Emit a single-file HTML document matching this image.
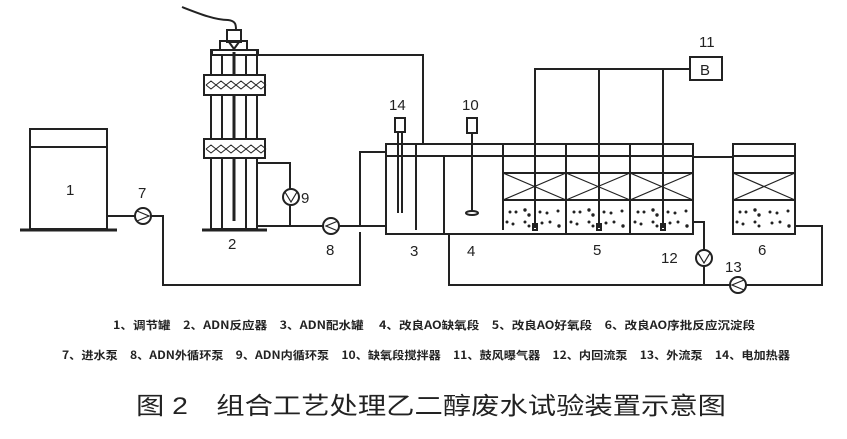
<!DOCTYPE html>
<html><head><meta charset="utf-8"><style>
html,body{margin:0;padding:0;background:#fff;}
svg{display:block;}
text{font-family:"Liberation Sans","Noto Sans CJK SC",sans-serif;fill:#222;}
.cn{font-family:"Noto Sans CJK SC","WenQuanYi Zen Hei",sans-serif;font-weight:bold;font-size:11px;}
</style></head><body>
<svg width="847" height="439" viewBox="0 0 847 439" xmlns="http://www.w3.org/2000/svg">
<g fill="none" stroke="#222" stroke-width="2">
<rect x="30" y="129" width="77" height="100"/>
<line x1="30" y1="147" x2="107" y2="147"/>
<line x1="20" y1="230" x2="117" y2="230" stroke-width="3"/>
<circle cx="143" cy="216" r="8"/>
<polyline points="107,216 135,216"/>
<polyline points="151,216 163,216 163,285 360,285 360,232"/>
<polyline points="360,226 360,152 386,152"/>
<rect x="211" y="50" width="46" height="179"/>
<line x1="222" y1="55" x2="222" y2="229"/>
<line x1="246" y1="55" x2="246" y2="229"/>
<line x1="234" y1="52" x2="234" y2="221" stroke-width="3"/>
<line x1="202" y1="230" x2="267" y2="230" stroke-width="3"/>
<rect x="204" y="75" width="61" height="20" fill="#fff"/>
<rect x="204" y="139" width="61" height="19" fill="#fff"/>
<path d="M206,85 l5,-4 5,4 5,-4 5,4 5,-4 5,4 5,-4 5,4 5,-4 5,4 5,-4 5,4 M206,85 l5,4 5,-4 5,4 5,-4 5,4 5,-4 5,4 5,-4 5,4 5,-4 5,4 5,-4" stroke-width="1"/>
<path d="M206,149 l5,-4 5,4 5,-4 5,4 5,-4 5,4 5,-4 5,4 5,-4 5,4 5,-4 5,4 M206,149 l5,4 5,-4 5,4 5,-4 5,4 5,-4 5,4 5,-4 5,4 5,-4 5,4 5,-4" stroke-width="1"/>
<rect x="212" y="50" width="46" height="5"/>
<rect x="220" y="41" width="27" height="9"/>
<rect x="227" y="30" width="14" height="12"/>
<path d="M229,42 l5,7 5,-7"/>
<path d="M182,7 C200,14 215,20 228,20 C236,21 236,25 236,30"/>
<polyline points="257,55 423,55 423,144"/>
<polyline points="257,163 290,163 290,189"/>
<circle cx="291" cy="197" r="8"/>
<path d="M285,192 l6,10 6,-10" stroke-width="1.2"/>
<polyline points="290,205 290,226"/>
<line x1="257" y1="226" x2="323" y2="226"/>
<circle cx="331" cy="226" r="8"/>
<path d="M338,221 l-12,5 12,5" stroke-width="1.2"/>
<path d="M137,211 l12,5 -12,5" stroke-width="1.2"/>
<line x1="339" y1="226" x2="386" y2="226"/>
<rect x="386" y="144" width="307" height="90"/>
<line x1="386" y1="156" x2="693" y2="156"/>
<line x1="416" y1="144" x2="416" y2="230"/>
<line x1="444" y1="156" x2="444" y2="234"/>
<line x1="503" y1="144" x2="503" y2="230"/>
<line x1="566" y1="144" x2="566" y2="234"/>
<line x1="630" y1="144" x2="630" y2="234"/>
<rect x="503" y="173" width="190" height="27"/>
<path d="M503,173 L566,200 M566,173 L503,200 M566,173 L630,200 M630,173 L566,200 M630,173 L693,200 M693,173 L630,200" stroke-width="1.2"/>
<polyline points="535,228 535,69 690,69"/>
<line x1="599" y1="69" x2="599" y2="228"/>
<line x1="663" y1="69" x2="663" y2="228"/>
<rect x="533" y="224" width="4" height="6"/>
<rect x="597" y="224" width="4" height="6"/>
<rect x="661" y="224" width="4" height="6"/>
<rect x="690" y="57" width="32" height="23"/>
<rect x="395" y="118" width="10" height="14"/>
<line x1="398" y1="132" x2="398" y2="213"/>
<line x1="402" y1="132" x2="402" y2="213"/>
<rect x="467" y="118" width="10" height="15"/>
<line x1="472" y1="133" x2="472" y2="212"/>
<ellipse cx="472" cy="213" rx="6" ry="2"/>
<rect x="733" y="144" width="62" height="90"/>
<line x1="733" y1="156" x2="795" y2="156"/>
<rect x="733" y="173" width="62" height="27"/>
<path d="M733,173 L795,200 M795,173 L733,200" stroke-width="1.2"/>
<line x1="693" y1="157" x2="733" y2="157"/>
<polyline points="693,222 704,222 704,250"/>
<circle cx="704" cy="258" r="8"/>
<path d="M698,253 l6,10 6,-10" stroke-width="1.2"/>
<line x1="704" y1="266" x2="704" y2="285"/>
<polyline points="449,234 449,285 730,285"/>
<circle cx="738" cy="285" r="8"/>
<path d="M744,280 l-12,5 12,5" stroke-width="1.2"/>
<polyline points="746,285 822,285 822,226 795,226"/>
</g>
<g fill="#222">
<g id="dots">
<circle cx="510" cy="212" r="1.5"/><circle cx="516" cy="212" r="1.5"/><circle cx="525" cy="210" r="1.7"/><circle cx="529" cy="215" r="1.7"/><circle cx="540" cy="212" r="1.5"/><circle cx="547" cy="213" r="1.5"/><circle cx="558" cy="211" r="1.5"/>
<circle cx="507" cy="222" r="1.5"/><circle cx="513" cy="224" r="1.5"/><circle cx="525" cy="222" r="1.5"/><circle cx="529" cy="226" r="1.5"/><circle cx="542" cy="223" r="1.5"/><circle cx="550" cy="222" r="1.5"/><circle cx="559" cy="226" r="1.7"/>
</g>
<use href="#dots" x="64"/><use href="#dots" x="128"/><use href="#dots" x="230"/>
</g>
<g font-size="15">
<text x="66" y="195">1</text><text x="138" y="198">7</text><text x="228" y="249">2</text>
<text x="301" y="203">9</text><text x="326" y="255">8</text><text x="410" y="256">3</text>
<text x="467" y="256">4</text><text x="593" y="255">5</text><text x="758" y="255">6</text>
<text x="661" y="263">12</text><text x="725" y="272">13</text>
<text x="389" y="110">14</text><text x="462" y="110">10</text><text x="699" y="47">11</text>
<text x="700" y="75" font-family="Liberation Serif" font-size="15">B</text>
</g>
<text class="cn" x="113" y="329" textLength="642" lengthAdjust="spacingAndGlyphs">1、调节罐　2、ADN反应器　3、ADN配水罐　 4、改良AO缺氧段　5、改良AO好氧段　6、改良AO序批反应沉淀段</text>
<text class="cn" x="62" y="359" textLength="728" lengthAdjust="spacingAndGlyphs">7、进水泵　8、ADN外循环泵　9、ADN内循环泵　10、缺氧段搅拌器　11、鼓风曝气器　12、内回流泵　13、外流泵　14、电加热器</text>
<text x="136" y="414" font-size="24" font-family="'Liberation Sans','Noto Sans CJK SC',sans-serif" textLength="590" lengthAdjust="spacingAndGlyphs">图 2　组合工艺处理乙二醇废水试验装置示意图</text>
</svg>
</body></html>
